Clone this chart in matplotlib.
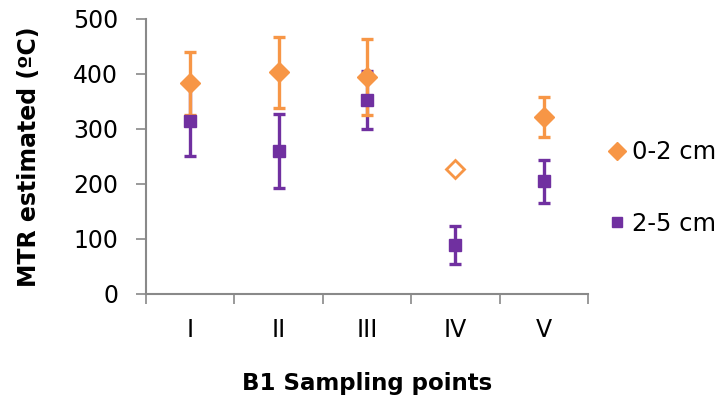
import numpy as np
import matplotlib
matplotlib.use('Agg')
import matplotlib.pyplot as plt

plt.rcParams['font.family'] = ['DejaVu Sans']

ORANGE = '#F79646'
PURPLE = '#7030A0'
AXIS_GREY = '#898989'

points = ['I', 'II', 'III', 'IV', 'V']
mtr_0_2 = [383, 403, 394, 227, 322]
err_0_2 = [57, 64, 69, np.nan, 37]
hollow_0_2 = [False, False, False, True, False]
mtr_2_5 = [315, 260, 353, 89, 205]
err_2_5 = [65, 68, 53, 34, 39]

fig = plt.figure(figsize=(7.21, 4.03), dpi=100)
ax = fig.add_axes([0.2025, 0.2705, 0.6130, 0.6824])

x = np.arange(len(points))

# error bars first, markers on top (like Excel)
ax.errorbar(x, mtr_2_5, yerr=err_2_5, fmt='none', ecolor=PURPLE,
            elinewidth=2.4, capsize=4.5, capthick=2.4, zorder=2)
ax.errorbar(x, mtr_0_2, yerr=err_0_2, fmt='none', ecolor=ORANGE,
            elinewidth=2.4, capsize=4.5, capthick=2.4, zorder=2.5)

ax.plot(x, mtr_2_5, 's', color=PURPLE, markersize=9, zorder=3,
        label='2-5 cm')

filled = ~np.array(hollow_0_2)
ax.plot(x[filled], np.array(mtr_0_2)[filled], 'D', color=ORANGE,
        markersize=10.5, zorder=4, label='0-2 cm')
ax.plot(x[~filled], np.array(mtr_0_2)[~filled], 'D', markerfacecolor='white',
        markeredgecolor=ORANGE, markeredgewidth=2, markersize=9.5, zorder=4)

ax.set_xlim(-0.5, len(points) - 0.5)
ax.set_ylim(0, 500)
ax.set_yticks(range(0, 501, 100))
ax.set_xticks(x)
ax.set_xticklabels(points)
ax.set_xticks(np.arange(len(points) + 1) - 0.5, minor=True)
ax.tick_params(axis='x', which='major', length=0, pad=17, labelsize=17)
ax.tick_params(axis='x', which='minor', length=7, width=1.2, color=AXIS_GREY,
               direction='out')
ax.tick_params(axis='y', length=7, width=1.2, color=AXIS_GREY, pad=13,
               labelsize=17)

for side in ['top', 'right']:
    ax.spines[side].set_visible(False)
for side in ['left', 'bottom']:
    ax.spines[side].set_color(AXIS_GREY)
    ax.spines[side].set_linewidth(1.5)

ax.set_xlabel('B1 Sampling points', fontsize=16.5, fontweight='bold', labelpad=22)
ax.set_ylabel('MTR estimated (ºC)', fontsize=17, fontweight='bold', labelpad=23)

handles, labels = ax.get_legend_handles_labels()
leg = ax.legend(handles[::-1], labels[::-1], loc='center left',
                bbox_to_anchor=(1.0, 0.385), frameon=False, fontsize=17.5,
                handlelength=0.6, handletextpad=0.3, labelspacing=1.95,
                markerscale=0.85)

fig.savefig('out.png', dpi=100)
